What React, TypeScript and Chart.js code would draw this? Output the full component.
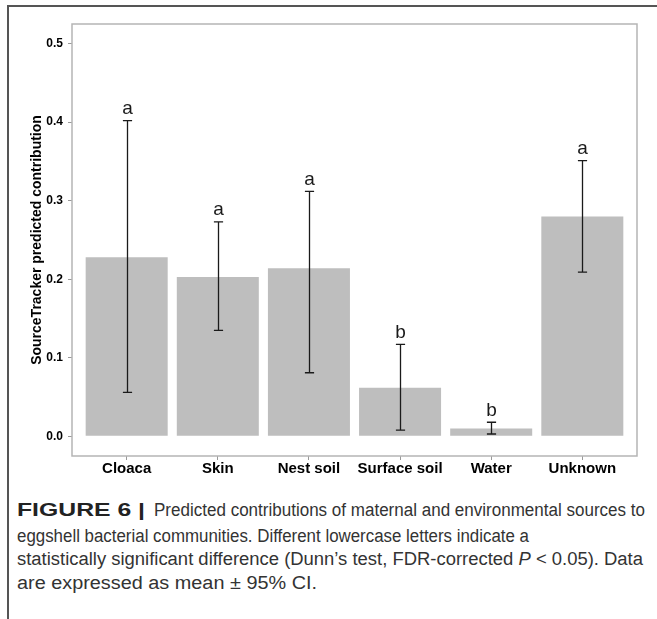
import React, { useEffect, useLayoutEffect, useRef } from "react";
import { Chart, registerables } from "chart.js";

Chart.register(...registerables);

const categories = ["Cloaca", "Skin", "Nest soil", "Surface soil", "Water", "Unknown"];
const means = [0.228, 0.203, 0.214, 0.062, 0.010, 0.280];
const lowerCI = [0.056, 0.135, 0.081, 0.008, 0.003, 0.209];
const upperCI = [0.402, 0.273, 0.312, 0.117, 0.018, 0.351];
const letters = ["a", "a", "a", "b", "b", "a"];
const yTicks = [0, 0.1, 0.2, 0.3, 0.4, 0.5];

const FONT = '"Liberation Sans", Arial, Helvetica, sans-serif';

function FitText(props: {
  left: number;
  top: number;
  width: number;
  bold?: boolean;
  children: React.ReactNode;
}) {
  const ref = useRef<HTMLDivElement>(null);
  useLayoutEffect(() => {
    const el = ref.current;
    if (!el) return;
    el.style.transform = "none";
    const w = el.getBoundingClientRect().width;
    if (w > 0) el.style.transform = `scaleX(${props.width / w})`;
  }, [props.width]);
  return (
    <div
      ref={ref}
      style={{
        position: "absolute",
        left: props.left,
        top: props.top,
        height: 24,
        lineHeight: "24px",
        whiteSpace: "nowrap",
        display: "inline-block",
        transformOrigin: "0 0",
        fontFamily: FONT,
        fontSize: 18,
        fontWeight: props.bold ? "bold" : "normal",
        color: props.bold ? "#222" : "#333",
      }}
    >
      {props.children}
    </div>
  );
}

export default function App() {
  const ref = useRef<HTMLCanvasElement>(null);

  useEffect(() => {
    if (!ref.current) return;
    const overlay = {
      id: "errorBarsAndFrame",
      afterDatasetsDraw(chart: any) {
        const { ctx, chartArea } = chart;
        const x = chart.scales.x;
        const y = chart.scales.y;
        ctx.save();
        categories.forEach((_, i) => {
          const px = Math.round(x.getPixelForValue(i + 1)) + 0.5;
          const top = y.getPixelForValue(upperCI[i]);
          const bot = y.getPixelForValue(lowerCI[i]);
          const hw = 4.6;
          ctx.strokeStyle = "#1a1a1a";
          ctx.lineWidth = 1.3;
          ctx.beginPath();
          ctx.moveTo(px, top);
          ctx.lineTo(px, bot);
          ctx.moveTo(px - hw, top);
          ctx.lineTo(px + hw, top);
          ctx.moveTo(px - hw, bot);
          ctx.lineTo(px + hw, bot);
          ctx.stroke();
          ctx.fillStyle = "#1a1a1a";
          ctx.font = `19px ${FONT}`;
          ctx.textAlign = "center";
          ctx.textBaseline = "alphabetic";
          ctx.fillText(letters[i], px, top - 6.5);
        });
        ctx.strokeStyle = "#b5b5b5";
        ctx.lineWidth = 1.5;
        ctx.strokeRect(
          chartArea.left,
          chartArea.top,
          chartArea.right - chartArea.left,
          chartArea.bottom - chartArea.top
        );
        ctx.restore();
      },
    };

    const chart = new Chart(ref.current, {
      type: "bar",
      data: {
        datasets: [
          {
            data: means.map((v, i) => ({ x: i + 1, y: v })),
            backgroundColor: "#bebebe",
            borderWidth: 0,
            barPercentage: 0.9,
            categoryPercentage: 1,
          },
        ],
      },
      options: {
        responsive: false,
        animation: false,
        devicePixelRatio: 1,
        layout: { padding: { left: 0, top: 24, right: 20, bottom: 0 } },
        plugins: { legend: { display: false }, tooltip: { enabled: false } },
        scales: {
          x: {
            type: "linear",
            min: 0.4,
            max: 6.6,
            offset: false,
            afterBuildTicks: (s: any) => {
              s.ticks = categories.map((_, i) => ({ value: i + 1 }));
            },
            afterFit: (s: any) => {
              s.height = 34;
            },
            ticks: {
              callback: (v: any) => categories[Math.round(Number(v)) - 1] ?? "",
              font: { family: FONT, size: 15, weight: "bold" },
              color: "#000",
              padding: 0,
              maxRotation: 0,
              autoSkip: false,
            },
            grid: { drawOnChartArea: false, tickLength: 4, tickColor: "#999", offset: false },
            border: { display: false },
          },
          y: {
            type: "linear",
            min: -0.025,
            max: 0.525,
            afterBuildTicks: (s: any) => {
              s.ticks = yTicks.map((v) => ({ value: v }));
            },
            afterFit: (s: any) => {
              s.width = 72;
            },
            ticks: {
              callback: (v: any) => Number(v).toFixed(1),
              font: { family: FONT, size: 12, weight: "bold" },
              color: "#000",
              padding: 5,
            },
            grid: { drawOnChartArea: false, tickLength: 4, tickColor: "#999" },
            border: { display: false },
            title: {
              display: true,
              text: "SourceTracker predicted contribution",
              font: { family: FONT, size: 14, weight: "bold" },
              color: "#000",
              padding: { top: 29, bottom: 0 },
            },
          },
        },
      },
      plugins: [overlay],
    } as any);
    return () => chart.destroy();
  }, []);

  return (
    <div
      style={{
        position: "absolute",
        left: 0,
        top: 0,
        width: 657,
        height: 619,
        background: "#fff",
        overflow: "hidden",
      }}
    >
      <div style={{ position: "absolute", left: 8, top: 5, width: 649, height: 1.5, background: "#555" }} />
      <div style={{ position: "absolute", left: 7.3, top: 5, width: 1.5, height: 614, background: "#555" }} />
      <canvas
        ref={ref}
        width={657}
        height={490}
        style={{ position: "absolute", left: 0, top: 0, width: 657, height: 490 }}
      />
      <FitText left={17} top={498} width={128} bold>
        FIGURE 6 |
      </FitText>
      <FitText left={154} top={498} width={491}>
        Predicted contributions of maternal and environmental sources to
      </FitText>
      <FitText left={17} top={524} width={512}>
        eggshell bacterial communities. Different lowercase letters indicate a
      </FitText>
      <FitText left={17} top={547} width={626}>
        statistically significant difference (Dunn’s test, FDR-corrected <i>P</i> &lt; 0.05). Data
      </FitText>
      <FitText left={17} top={571} width={300}>
        are expressed as mean ± 95% CI.
      </FitText>
    </div>
  );
}
